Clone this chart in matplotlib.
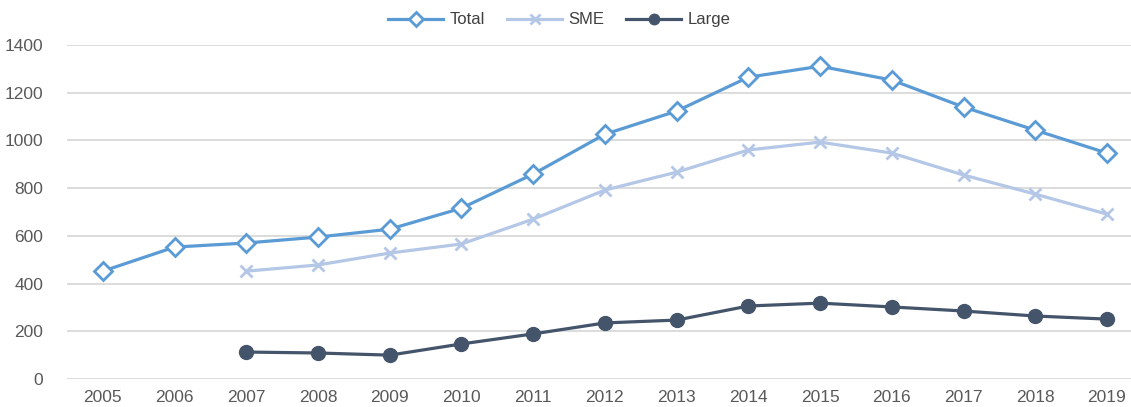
import matplotlib.pyplot as plt

plt.rcParams['font.family'] = ['Liberation Sans', 'DejaVu Sans']

years = ['2005', '2006', '2007', '2008', '2009', '2010', '2011', '2012',
         '2013', '2014', '2015', '2016', '2017', '2018', '2019']
total = [452, 553, 570, 595, 628, 716, 859, 1026, 1123, 1265, 1311, 1253, 1140, 1043, 947]
sme_years = years[2:]
sme = [452, 478, 528, 566, 670, 792, 867, 960, 993, 947, 855, 775, 691]
large_years = years[2:]
large = [113, 109, 100, 147, 189, 235, 247, 306, 318, 302, 285, 264, 251]

fig = plt.figure(figsize=(11.31, 4.07), dpi=100)
ax = fig.add_axes([67 / 1131, 28 / 407, 1 - 67 / 1131, 334 / 407])

xi = {y: i for i, y in enumerate(years)}

ax.plot([xi[y] for y in years], total, color='#5B9BD5', lw=2.3, marker='D',
        ms=9, mfc='white', mec='#5B9BD5', mew=2, label='Total', zorder=3)
ax.plot([xi[y] for y in sme_years], sme, color='#B4C7E7', lw=2.3, marker='x',
        ms=9, mew=2, label='SME', zorder=3)
ax.plot([xi[y] for y in large_years], large, color='#44546A', lw=2.3, marker='o',
        ms=10, label='Large', zorder=3)

ax.set_xlim(-0.5, 14.335)
ax.set_ylim(0, 1400)
ax.set_xticks(range(len(years)))
ax.set_xticklabels(years)
ax.set_yticks(range(0, 1401, 200))
ax.grid(axis='y', color='#D9D9D9', lw=1.3)
ax.set_axisbelow(True)
for s in ax.spines.values():
    s.set_visible(False)
ax.tick_params(length=0, labelsize=12.5, colors='#595959', pad=8)
ax.tick_params(axis='y', pad=17)

ax.legend(loc='center', bbox_to_anchor=(0.463, 1.075), ncol=3, frameon=False,
          fontsize=12, labelcolor='#404040', handlelength=3.3, columnspacing=1.3,
          handletextpad=0.4, markerscale=0.75)

fig.savefig('out.png', dpi=100)
